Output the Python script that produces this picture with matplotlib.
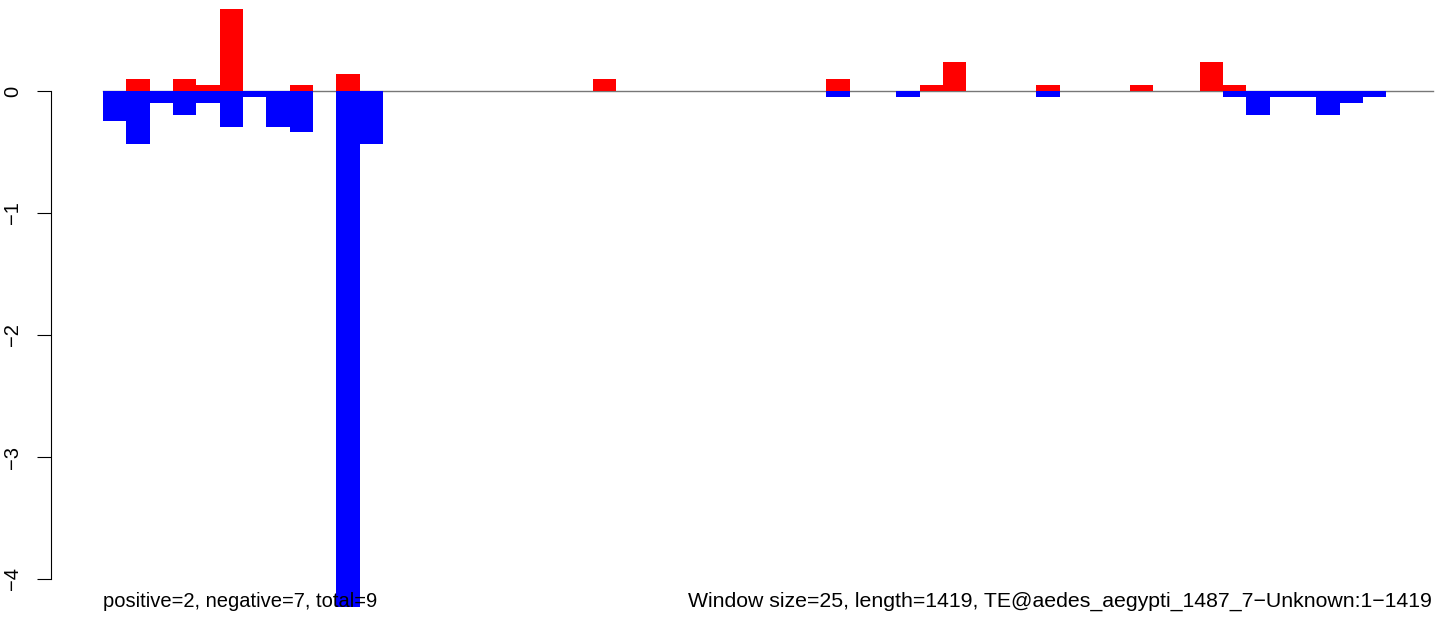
import matplotlib
matplotlib.use("Agg")
import matplotlib.pyplot as plt
import numpy as np

plt.rcParams['font.family'] = ['Liberation Sans', 'DejaVu Sans']

n_windows = 57
# positive (red) values by window index
pos_idx = [1, 3, 4, 5, 8, 10, 21, 31, 35, 36, 40, 44, 47, 48]
pos_val = [0.096, 0.096, 0.047, 0.67, 0.047, 0.14, 0.098, 0.098, 0.049, 0.238,
           0.049, 0.049, 0.238, 0.049]
# negative (blue) values by window index
neg_idx = [0, 1, 2, 3, 4, 5, 6, 7, 8, 10, 11, 31, 34, 40, 48, 49, 50, 51, 52, 53, 54]
neg_val = [0.246, 0.437, 0.098, 0.197, 0.098, 0.295, 0.049, 0.295, 0.336, 4.23,
           0.437, 0.047, 0.047, 0.047, 0.047, 0.197, 0.047, 0.047, 0.197, 0.096, 0.047]

yticks = [0, -1, -2, -3, -4]
left_text = "positive=2, negative=7, total=9"
right_text = "Window size=25, length=1419, TE@aedes_aegypti_1487_7\u2212Unknown:1\u22121419"

W, H = 1444, 628
fig = plt.figure(figsize=(W / 100, H / 100), dpi=100)
px_unit_x = 1330 / 57.0
px_unit_y = 122.0
x0_px = 103.0
y0_px = 91.0
ax_left_px = 51.0
ax = fig.add_axes([ax_left_px / W, 0, 1 - ax_left_px / W, 1])
ax.set_xlim((ax_left_px - x0_px) / px_unit_x, (W - x0_px) / px_unit_x)
ax.set_ylim(-(H - y0_px) / px_unit_y, y0_px / px_unit_y)

ax.plot([0, n_windows], [0, 0], color='#777777', lw=1.0, zorder=1)
ax.bar(pos_idx, pos_val, width=1.0, align='edge', color='#FF0000', linewidth=0, zorder=2)
ax.bar(neg_idx, -np.array(neg_val), width=1.0, align='edge', color='#0000FF', linewidth=0, zorder=2)

for s in ['top', 'right', 'bottom']:
    ax.spines[s].set_visible(False)
ax.spines['left'].set_bounds(-4, 0)
ax.spines['left'].set_linewidth(0.8)
ax.set_xticks([])
ax.set_yticks(yticks)
ax.set_yticklabels([f"{t}".replace('-', '\u2212') for t in yticks], rotation=90,
                   va='center', fontsize=14.5)
ax.tick_params(axis='y', length=10, width=0.8, pad=11)

ty = -(607 - y0_px) / px_unit_y
ax.text(0, ty, left_text, ha='left', va='baseline', fontsize=14.5, zorder=5)
ax.text(n_windows - 0.05, ty, right_text, ha='right', va='baseline', fontsize=15.3, zorder=5)

fig.savefig("out.png", dpi=100)
